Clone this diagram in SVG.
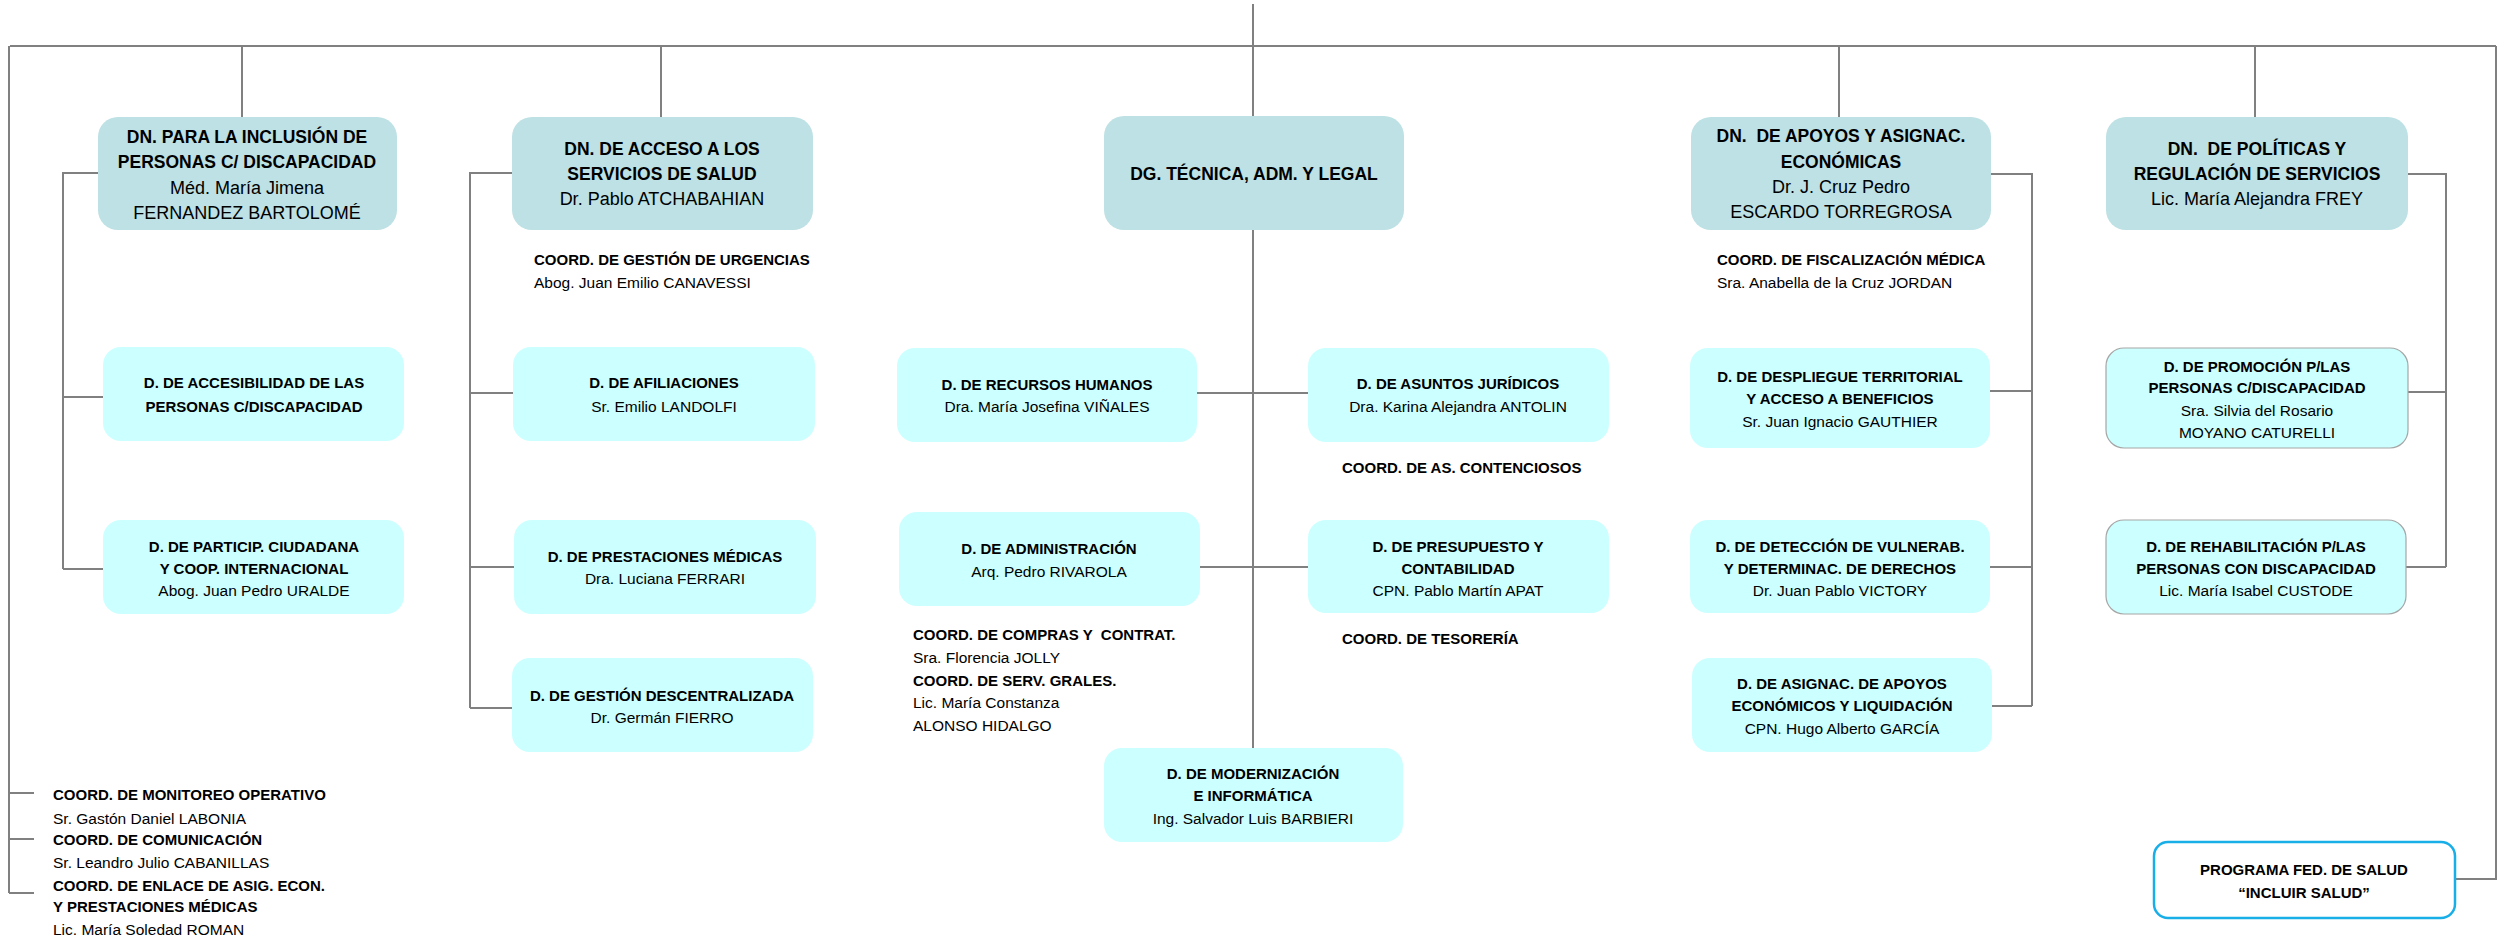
<svg xmlns="http://www.w3.org/2000/svg" width="2509" height="940" viewBox="0 0 2509 940">
<style>
.dn{fill:#BDE1E4}
.sub{fill:#CCFFFF}
.sub2{fill:#CCFFFF;stroke:#A6A6A6;stroke-width:1.2}
.prog{fill:#FFFFFF;stroke:#18AEE8;stroke-width:2.5}
.c{fill:none;stroke:#808080;stroke-width:2}
text{font-family:"Liberation Sans",Arial,sans-serif;white-space:pre;fill:#000}
.tb{font-weight:bold;font-size:17.5px;text-anchor:middle}
.tr{font-size:18px;text-anchor:middle}
.sb{font-weight:bold;font-size:15px;text-anchor:middle}
.sr{font-size:15.5px;text-anchor:middle}
.lb{font-weight:bold;font-size:15px}
.lr{font-size:15.5px}
</style>
<rect width="2509" height="940" fill="#FFFFFF"/>
<g id="connectors">
<path class="c" d="M1253 4V748"/>
<path class="c" d="M10 46H2496"/>
<path class="c" d="M9 46V893M9 793H34M9 839H34M9 893H34"/>
<path class="c" d="M2496 46V879H2455"/>
<path class="c" d="M242 46V117M661 46V117M1839 46V117M2255 46V117"/>
<path class="c" d="M98 173H63V569M63 397H103M63 569H103"/>
<path class="c" d="M512 173H470V708M470 393H513M470 567H514M470 708H512"/>
<path class="c" d="M1197 393H1308M1200 567H1308"/>
<path class="c" d="M1991 174H2032V706M1990 391H2032M1990 567H2032M1992 706H2032"/>
<path class="c" d="M2408 174H2446V567M2408 392H2446M2406 567H2446"/>
</g>
<g id="dn-inclusion">
<rect class="dn" x="98" y="117" width="299" height="113" rx="20"/>
<text class="tb" x="247" y="143">DN. PARA LA INCLUSIÓN DE</text>
<text class="tb" x="247" y="168">PERSONAS C/ DISCAPACIDAD</text>
<text class="tr" x="247" y="194">Méd. María Jimena</text>
<text class="tr" x="247" y="219">FERNANDEZ BARTOLOMÉ</text>
</g>
<g id="dn-acceso">
<rect class="dn" x="512" y="117" width="301" height="113" rx="20"/>
<text class="tb" x="662" y="155">DN. DE ACCESO A LOS</text>
<text class="tb" x="662" y="180">SERVICIOS DE SALUD</text>
<text class="tr" x="662" y="205">Dr. Pablo ATCHABAHIAN</text>
</g>
<g id="dg-tecnica">
<rect class="dn" x="1104" y="116" width="300" height="114" rx="20"/>
<text class="tb" x="1254" y="180">DG. TÉCNICA, ADM. Y LEGAL</text>
</g>
<g id="dn-apoyos">
<rect class="dn" x="1691" y="117" width="300" height="113" rx="20"/>
<text class="tb" x="1841" y="142">DN.  DE APOYOS Y ASIGNAC.</text>
<text class="tb" x="1841" y="168">ECONÓMICAS</text>
<text class="tr" x="1841" y="193">Dr. J. Cruz Pedro</text>
<text class="tr" x="1841" y="218">ESCARDO TORREGROSA</text>
</g>
<g id="dn-politicas">
<rect class="dn" x="2106" y="117" width="302" height="113" rx="20"/>
<text class="tb" x="2257" y="155">DN.  DE POLÍTICAS Y</text>
<text class="tb" x="2257" y="180">REGULACIÓN DE SERVICIOS</text>
<text class="tr" x="2257" y="205">Lic. María Alejandra FREY</text>
</g>
<g id="coord-urgencias">
<text class="lb" x="534" y="265">COORD. DE GESTIÓN DE URGENCIAS</text>
<text class="lr" x="534" y="288">Abog. Juan Emilio CANAVESSI</text>
</g>
<g id="coord-fiscalizacion">
<text class="lb" x="1717" y="265">COORD. DE FISCALIZACIÓN MÉDICA</text>
<text class="lr" x="1717" y="288">Sra. Anabella de la Cruz JORDAN</text>
</g>
<g id="d-accesibilidad">
<rect class="sub" x="103" y="347" width="301" height="94" rx="18"/>
<text class="sb" x="254" y="388">D. DE ACCESIBILIDAD DE LAS</text>
<text class="sb" x="254" y="412">PERSONAS C/DISCAPACIDAD</text>
</g>
<g id="d-particip">
<rect class="sub" x="103" y="520" width="301" height="94" rx="18"/>
<text class="sb" x="254" y="552">D. DE PARTICIP. CIUDADANA</text>
<text class="sb" x="254" y="574">Y COOP. INTERNACIONAL</text>
<text class="sr" x="254" y="596">Abog. Juan Pedro URALDE</text>
</g>
<g id="d-afiliaciones">
<rect class="sub" x="513" y="347" width="302" height="94" rx="18"/>
<text class="sb" x="664" y="388">D. DE AFILIACIONES</text>
<text class="sr" x="664" y="412">Sr. Emilio LANDOLFI</text>
</g>
<g id="d-prestaciones">
<rect class="sub" x="514" y="520" width="302" height="94" rx="18"/>
<text class="sb" x="665" y="562">D. DE PRESTACIONES MÉDICAS</text>
<text class="sr" x="665" y="584">Dra. Luciana FERRARI</text>
</g>
<g id="d-gestion-descentralizada">
<rect class="sub" x="512" y="658" width="301" height="94" rx="18"/>
<text class="sb" x="662" y="701">D. DE GESTIÓN DESCENTRALIZADA</text>
<text class="sr" x="662" y="723">Dr. Germán FIERRO</text>
</g>
<g id="d-rrhh">
<rect class="sub" x="897" y="348" width="300" height="94" rx="18"/>
<text class="sb" x="1047" y="390">D. DE RECURSOS HUMANOS</text>
<text class="sr" x="1047" y="412">Dra. María Josefina VIÑALES</text>
</g>
<g id="d-asuntos">
<rect class="sub" x="1308" y="348" width="301" height="94" rx="18"/>
<text class="sb" x="1458" y="389">D. DE ASUNTOS JURÍDICOS</text>
<text class="sr" x="1458" y="412">Dra. Karina Alejandra ANTOLIN</text>
</g>
<g id="coord-contenciosos">
<text class="lb" x="1342" y="473">COORD. DE AS. CONTENCIOSOS</text>
</g>
<g id="d-administracion">
<rect class="sub" x="899" y="512" width="301" height="94" rx="18"/>
<text class="sb" x="1049" y="554">D. DE ADMINISTRACIÓN</text>
<text class="sr" x="1049" y="577">Arq. Pedro RIVAROLA</text>
</g>
<g id="d-presupuesto">
<rect class="sub" x="1308" y="520" width="301" height="93" rx="18"/>
<text class="sb" x="1458" y="552">D. DE PRESUPUESTO Y</text>
<text class="sb" x="1458" y="574">CONTABILIDAD</text>
<text class="sr" x="1458" y="596">CPN. Pablo Martín APAT</text>
</g>
<g id="coord-tesoreria">
<text class="lb" x="1342" y="644">COORD. DE TESORERÍA</text>
</g>
<g id="coord-compras">
<text class="lb" x="913" y="640">COORD. DE COMPRAS Y  CONTRAT.</text>
<text class="lr" x="913" y="663">Sra. Florencia JOLLY</text>
<text class="lb" x="913" y="686">COORD. DE SERV. GRALES.</text>
<text class="lr" x="913" y="708">Lic. María Constanza</text>
<text class="lr" x="913" y="731">ALONSO HIDALGO</text>
</g>
<g id="d-modernizacion">
<rect class="sub" x="1104" y="748" width="299" height="94" rx="18"/>
<text class="sb" x="1253" y="779">D. DE MODERNIZACIÓN</text>
<text class="sb" x="1253" y="801">E INFORMÁTICA</text>
<text class="sr" x="1253" y="824">Ing. Salvador Luis BARBIERI</text>
</g>
<g id="d-despliegue">
<rect class="sub" x="1690" y="348" width="300" height="100" rx="18"/>
<text class="sb" x="1840" y="382">D. DE DESPLIEGUE TERRITORIAL</text>
<text class="sb" x="1840" y="404">Y ACCESO A BENEFICIOS</text>
<text class="sr" x="1840" y="427">Sr. Juan Ignacio GAUTHIER</text>
</g>
<g id="d-deteccion">
<rect class="sub" x="1690" y="520" width="300" height="93" rx="18"/>
<text class="sb" x="1840" y="552">D. DE DETECCIÓN DE VULNERAB.</text>
<text class="sb" x="1840" y="574">Y DETERMINAC. DE DERECHOS</text>
<text class="sr" x="1840" y="596">Dr. Juan Pablo VICTORY</text>
</g>
<g id="d-asignac">
<rect class="sub" x="1692" y="658" width="300" height="94" rx="18"/>
<text class="sb" x="1842" y="689">D. DE ASIGNAC. DE APOYOS</text>
<text class="sb" x="1842" y="711">ECONÓMICOS Y LIQUIDACIÓN</text>
<text class="sr" x="1842" y="734">CPN. Hugo Alberto GARCÍA</text>
</g>
<g id="d-promocion">
<rect class="sub2" x="2106" y="348" width="302" height="100" rx="18"/>
<text class="sb" x="2257" y="372">D. DE PROMOCIÓN P/LAS</text>
<text class="sb" x="2257" y="393">PERSONAS C/DISCAPACIDAD</text>
<text class="sr" x="2257" y="416">Sra. Silvia del Rosario</text>
<text class="sr" x="2257" y="438">MOYANO CATURELLI</text>
</g>
<g id="d-rehabilitacion">
<rect class="sub2" x="2106" y="520" width="300" height="94" rx="18"/>
<text class="sb" x="2256" y="552">D. DE REHABILITACIÓN P/LAS</text>
<text class="sb" x="2256" y="574">PERSONAS CON DISCAPACIDAD</text>
<text class="sr" x="2256" y="596">Lic. María Isabel CUSTODE</text>
</g>
<g id="programa-incluir-salud">
<rect class="prog" x="2154" y="842" width="301" height="76" rx="14"/>
<text class="sb" x="2304" y="875">PROGRAMA FED. DE SALUD</text>
<text class="sb" x="2304" y="898">“INCLUIR SALUD”</text>
</g>
<g id="coord-left">
<text class="lb" x="53" y="800">COORD. DE MONITOREO OPERATIVO</text>
<text class="lr" x="53" y="824">Sr. Gastón Daniel LABONIA</text>
<text class="lb" x="53" y="845">COORD. DE COMUNICACIÓN</text>
<text class="lr" x="53" y="868">Sr. Leandro Julio CABANILLAS</text>
<text class="lb" x="53" y="891">COORD. DE ENLACE DE ASIG. ECON.</text>
<text class="lb" x="53" y="912">Y PRESTACIONES MÉDICAS</text>
<text class="lr" x="53" y="935">Lic. María Soledad ROMAN</text>
</g>
</svg>
